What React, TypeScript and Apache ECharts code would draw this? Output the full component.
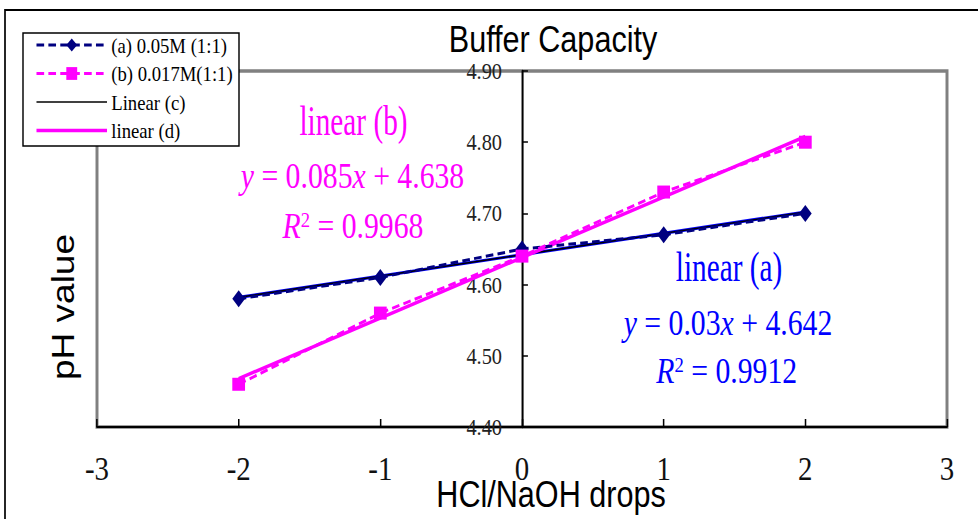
import React, { useEffect, useRef } from "react";
import * as echarts from "echarts";

// ---- data ----
const drops = [-2, -1, 0, 1, 2];
const phA = [4.58, 4.61, 4.65, 4.67, 4.7];
const phB = [4.46, 4.56, 4.64, 4.73, 4.8];
const trendX = [-2, 2];
const trendA = [4.582, 4.702];
const trendB = [4.468, 4.808];
const legendNames = ["(a) 0.05M (1:1)", "(b) 0.017M(1:1)", "Linear (c)", "linear (d)"];
const titleText = "Buffer Capacity";
const xTitle = "HCl/NaOH drops";
const yTitle = "pH value";
const labelB = "linear (b)";
const eqB = "{i|y} = 0.085{i|x} + 4.638";
const r2B = "{i|R}{sup|2} = 0.9968";
const labelA = "linear (a)";
const eqA = "{i|y} = 0.03{i|x} + 4.642";
const r2A = "{i|R}{sup|2} = 0.9912";

// ---- layout ----
const CW = 1151;
const CH = 519;
const S = 978 / CW; // horizontal compression of the whole picture
const px = (x: number) => x / S;

const serif = "'Liberation Serif', 'Times New Roman', serif";
const sans = "'Liberation Sans', Arial, sans-serif";
const MAG = "#FF00FF";
const BLUE = "#0000FF";
const NAVY = "#000080";

const zip = (xs: number[], ys: number[]) => xs.map((x, i) => [x, ys[i]]);

function txt(x: number, y: number, text: string, size: number, family: string, fill: string, extra: any = {}, rich?: any) {
  const style: any = {
    text,
    fontSize: size,
    fontFamily: family,
    fill,
    align: "center",
    verticalAlign: "middle",
    textAlign: "center",
    textVerticalAlign: "middle",
  };
  if (rich) style.rich = rich;
  return { type: "text", x, y, silent: true, z: 20, style, ...extra };
}

function eqRich(color: string, size: number) {
  return {
    i: { fontStyle: "italic", fontFamily: serif, fontSize: size, fill: color },
    sup: { fontFamily: serif, fontSize: Math.round(size * 0.62), fill: color, verticalAlign: "top" },
  };
}

export default function App() {
  const ref = useRef<HTMLDivElement>(null);
  useEffect(() => {
    if (!ref.current) return;
    const chart = echarts.init(ref.current, undefined, { renderer: "svg" });
    const option: any = {
      animation: false,
      backgroundColor: "#fff",
      grid: {
        left: px(97),
        top: 71,
        right: CW - px(947),
        bottom: CH - 427,
        show: true,
        borderColor: "#808080",
        borderWidth: 3.5,
        backgroundColor: "transparent",
      },
      xAxis: {
        type: "value",
        min: -3,
        max: 3,
        interval: 1,
        axisLine: { onZero: false, lineStyle: { color: "#000", width: 2 } },
        axisTick: { inside: true, length: 8, lineStyle: { color: "#000", width: 1.8 } },
        axisLabel: { margin: 25, fontFamily: serif, fontSize: 34, color: "#111" },
        splitLine: { show: false },
      },
      yAxis: {
        type: "value",
        min: 4.4,
        max: 4.9,
        interval: 0.1,
        offset: -px(522 - 97),
        axisLine: { onZero: false, lineStyle: { color: "#000", width: 2.4 } },
        axisTick: { inside: true, length: 7, lineStyle: { color: "#000", width: 1.5 } },
        axisLabel: {
          margin: 23.5,
          fontFamily: serif,
          fontSize: 24,
          color: "#222",
          formatter: (v: number) => v.toFixed(2),
        },
        splitLine: { show: false },
      },
      legend: {
        data: [
          { name: legendNames[0] },
          { name: legendNames[1] },
          { name: legendNames[2], itemStyle: { opacity: 0 } },
          { name: legendNames[3], itemStyle: { opacity: 0 } },
        ],
        orient: "vertical",
        left: px(35),
        top: 33,
        padding: 0,
        itemWidth: 83,
        itemHeight: 16,
        itemGap: 4.5,
        selectedMode: false,
        lineStyle: { width: "inherit" },
        textStyle: { fontFamily: serif, fontSize: 22, lineHeight: 24, color: "#000" },
        z: 10,
      },
      series: [
        {
          name: "trend (a)",
          type: "line",
          data: zip(trendX, trendA),
          symbol: "none",
          lineStyle: { color: BLUE, width: 3.2 },
          itemStyle: { color: BLUE },
        },
        {
          name: legendNames[2],
          type: "line",
          data: zip(trendX, trendA),
          symbol: "none",
          lineStyle: { color: "#000", width: 1.6 },
          itemStyle: { color: "#000" },
        },
        {
          name: legendNames[3],
          type: "line",
          data: zip(trendX, trendB),
          symbol: "none",
          lineStyle: { color: MAG, width: 3.5 },
          itemStyle: { color: MAG },
        },
        {
          name: legendNames[0],
          type: "line",
          data: zip(drops, phA),
          symbol: "diamond",
          symbolSize: [15, 17],
          lineStyle: { color: NAVY, width: 3, type: [9, 5] },
          itemStyle: { color: NAVY },
        },
        {
          name: legendNames[1],
          type: "line",
          data: zip(drops, phB),
          symbol: "rect",
          symbolSize: [15, 13],
          lineStyle: { color: MAG, width: 3, type: [9, 5] },
          itemStyle: { color: MAG },
        },
      ],
      graphic: {
        elements: [
          {
            type: "rect",
            silent: true,
            z: 0,
            shape: { x: px(5), y: 10, width: 1300, height: 700 },
            style: { fill: "none", stroke: "#000", lineWidth: 2 },
          },
          {
            type: "rect",
            silent: true,
            z: 5,
            shape: { x: px(23), y: 33, width: px(216), height: 113 },
            style: { fill: "#fff", stroke: "#000", lineWidth: 1.7 },
          },
          txt(px(553), 40, titleText, 36, sans, "#000"),
          txt(px(63), 307, yTitle, 37, sans, "#000", { rotation: Math.PI / 2 }),
          txt(px(551), 495, xTitle, 36, sans, "#000"),
          txt(px(353.5), 121, labelB, 42, serif, MAG, { scaleX: 0.82 }),
          txt(px(352.5), 176, eqB, 35, serif, MAG, {}, eqRich(MAG, 35)),
          txt(px(353), 226, r2B, 35, serif, MAG, {}, eqRich(MAG, 35)),
          txt(px(729), 267.5, labelA, 42, serif, BLUE, { scaleX: 0.82 }),
          txt(px(728), 323, eqA, 35, serif, BLUE, {}, eqRich(BLUE, 35)),
          txt(px(726.7), 371, r2A, 35, serif, BLUE, {}, eqRich(BLUE, 35)),
        ],
      },
    };
    chart.setOption(option);
    return () => chart.dispose();
  }, []);

  return (
    <div
      style={{
        position: "absolute",
        left: 0,
        top: 0,
        width: 978,
        height: 519,
        overflow: "hidden",
        background: "#fff",
      }}
    >
      <div
        ref={ref}
        style={{
          width: CW,
          height: CH,
          transform: `scaleX(${S})`,
          transformOrigin: "0 0",
        }}
      />
    </div>
  );
}
